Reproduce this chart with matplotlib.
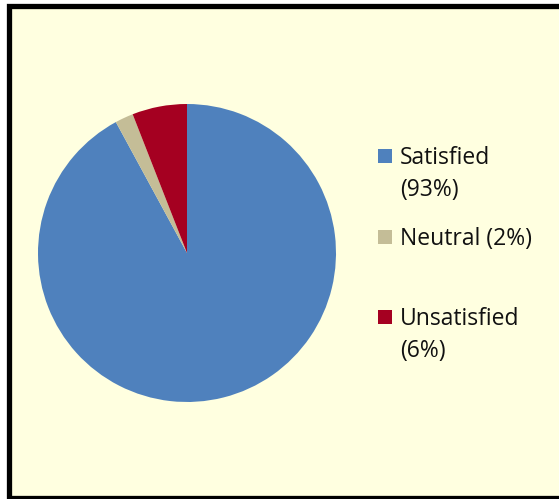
import matplotlib
matplotlib.use("Agg")
import matplotlib.pyplot as plt
from matplotlib.patches import Rectangle

categories = ["Satisfied", "Neutral", "Unsatisfied"]
values = [93, 2, 6]
legend_labels = ["Satisfied\n(93%)", "Neutral (2%)", "Unsatisfied\n(6%)"]
colors = ["#4F81BD", "#C4BD97", "#A50021"]

W, H = 559, 499
fig = plt.figure(figsize=(W / 100, H / 100), dpi=100)
fig.patch.set_facecolor("white")

def fx(x):
    return x / W

def fy(y):
    return 1 - y / H

# chart area background with border
bg = Rectangle((fx(8.5), fy(497.5)), fx(W + 20), fy(6) - fy(497.5),
               transform=fig.transFigure, facecolor="#FFFFE0",
               edgecolor="black", linewidth=3.8, zorder=-5)
fig.patches.append(bg)

cx, cy, r = 187, 253, 149
ax = fig.add_axes([fx(cx - r), fy(cy + r), (2 * r) / W, (2 * r) / H], zorder=2)
ax.patch.set_alpha(0)
ax.pie(values, colors=colors, startangle=90, counterclock=False,
       radius=1, wedgeprops=dict(linewidth=0))
ax.set_xlim(-1, 1)
ax.set_ylim(-1, 1)
ax.set_aspect("auto")
ax.axis("off")

font = "Open Sans"
sq_tops = [149, 230, 310]
for lab, col, top in zip(legend_labels, colors, sq_tops):
    fig.patches.append(Rectangle((fx(378), fy(top + 14)), 14 / W, 14 / H,
                                 transform=fig.transFigure, facecolor=col,
                                 edgecolor="none", zorder=3))
    lines = lab.split("\n")
    for i, line in enumerate(lines):
        fig.text(fx(400), fy(top + 15 + i * 32), line, fontsize=16.5,
                 family=font, color="#111111", va="baseline", ha="left")

fig.savefig("out.png", dpi=100)
